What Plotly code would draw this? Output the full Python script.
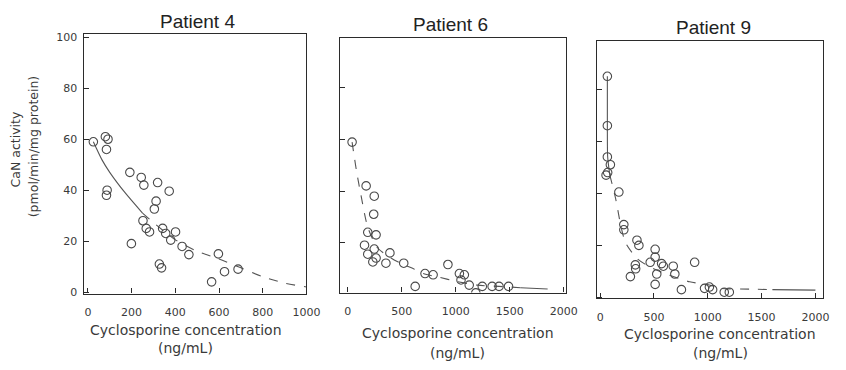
import plotly.graph_objects as go

# ---- measured CaN activity vs cyclosporine concentration ----
p4_conc = [25, 80, 92, 85, 85, 88, 192, 199, 244, 256, 252, 267, 282, 319, 312, 304,
           372, 342, 356, 327, 337, 401, 379, 431, 462, 597, 566, 625, 687]
p4_act = [59, 61, 60, 56, 38, 40, 47, 19, 45, 42, 28, 25, 23.6, 43, 35.7, 32.6,
          39.6, 25, 23, 11, 9.5, 23.6, 20.4, 17.9, 14.7, 15, 4, 8, 9]

p6_conc = [40, 170, 245, 240, 185, 262, 155, 245, 185, 262, 232, 353, 390, 518, 624,
           715, 790, 927, 1033, 1079, 1048, 1124, 1185, 1245, 1336, 1400, 1488]
p6_act = [59, 42, 38, 31, 24, 23, 19, 17.5, 15.5, 14, 12.5, 12, 16, 12, 3,
          8, 7.5, 11.5, 8, 7.5, 5.5, 3.5, 0.5, 3, 3, 3, 3]

p9_conc = [67, 67, 67, 95, 55, 70, 174, 220, 220, 342, 360, 327, 330, 281, 465,
           511, 511, 571, 587, 679, 694, 526, 511, 755, 878, 1015, 1045, 1153, 1200, 970]
p9_act = [85, 66, 54, 51, 47, 48, 40.5, 28, 26, 22, 20, 12.5, 11, 8, 13.5,
          18.5, 15.5, 13, 12, 12, 9, 9, 5, 3, 13.5, 4, 3, 2, 2, 3.5]

# ---- fitted decay curves ----
p4_fit_x = [25, 64, 100, 170, 250, 325, 400, 500, 600, 700, 800, 900, 1000]
p4_fit_y = [59, 52, 47, 39, 31, 25.5, 20.5, 16, 13, 9.5, 6, 3.5, 2]

p6_fit_x = [40, 80, 124, 185, 275, 400, 488, 600, 700, 850, 1000, 1200, 1400, 1600, 1850]
p6_fit_y = [59, 48, 38, 26, 18, 14, 12, 10, 8, 6.5, 5, 3.5, 3, 2.5, 2]

p9_fit_x = [67, 67, 70, 90, 144, 190, 236, 342, 450, 617, 832, 1015, 1120, 1400, 1600, 2000]
p9_fit_y = [85, 66, 54, 47, 38, 28, 21, 15, 12, 9, 6, 4.8, 3.5, 3.2, 3, 2.8]

# (x_from, x_to, dash) pieces of each fitted curve
p4_pieces = [(0, 250, "solid"), (250, 1000, "dash")]
p6_pieces = [(0, 1600, "dash"), (1600, 2000, "solid")]
p9_pieces = [(0, 90, "solid"), (90, 1600, "dash"), (1600, 2000, "solid")]

titles = ["Patient 4", "Patient 6", "Patient 9"]
x_title = ["Cyclosporine concentration", "(ng/mL)"]
y_title = ["CaN activity", "(pmol/min/mg protein)"]

W, H = 846, 370
INK = "#2b2b2b"
MARK = "#4a4a4a"
FONT = "DejaVu Sans"


def px(x):
    return x / W


def py(y):
    return 1 - y / H


panels = [
    dict(conc=p4_conc, act=p4_act, fx=p4_fit_x, fy=p4_fit_y, pieces=p4_pieces,
         xdom=(84, 311), ydom=(32, 297), xr=(-20, 1000), yr=(-0.6, 101.2), dtick=200,
         ylabels=True, title_xy=(200, 19), xt_x=188, xt_y=(334, 353)),
    dict(conc=p6_conc, act=p6_act, fx=p6_fit_x, fy=p6_fit_y, pieces=p6_pieces,
         xdom=(345, 575), ydom=(36, 296), xr=(-73, 2018), yr=(0.6, 99.3), dtick=500,
         ylabels=False, title_xy=(458, 22), xt_x=465, xt_y=(337, 358)),
    dict(conc=p9_conc, act=p9_act, fx=p9_fit_x, fy=p9_fit_y, pieces=p9_pieces,
         xdom=(607, 837), ydom=(39, 302), xr=(-27, 2072), yr=(-0.4, 98.5), dtick=500,
         ylabels=False, title_xy=(725, 25), xt_x=732, xt_y=(338, 358)),
]

fig = go.Figure()
annotations = []

for i, p in enumerate(panels, start=1):
    xa = "x" if i == 1 else f"x{i}"
    ya = "y" if i == 1 else f"y{i}"

    for lo, hi, dash in p["pieces"]:
        xs = [x for x in p["fx"] if lo <= x <= hi]
        ys = [y for x, y in zip(p["fx"], p["fy"]) if lo <= x <= hi]
        fig.add_trace(go.Scatter(
            x=xs, y=ys, mode="lines", xaxis=xa, yaxis=ya, showlegend=False,
            line=dict(color="#555555", width=1.1, dash=dash, shape="spline", smoothing=0.7),
            hoverinfo="skip"))

    fig.add_trace(go.Scatter(
        x=p["conc"], y=p["act"], mode="markers", xaxis=xa, yaxis=ya, showlegend=False,
        marker=dict(symbol="circle-open", size=8.5, color=MARK, line=dict(width=1.1))))

    axis_common = dict(
        showline=True, linecolor=INK, linewidth=1.3, mirror=True,
        ticks="inside", ticklen=5, tickwidth=1, tickcolor=INK,
        showgrid=False, zeroline=False,
        tickfont=dict(family=FONT, size=11, color="#3a3a3a"),
    )
    xname = "xaxis" if i == 1 else f"xaxis{i}"
    yname = "yaxis" if i == 1 else f"yaxis{i}"
    fig.update_layout({
        xname: dict(axis_common, domain=[px(p["xdom"][0]), px(p["xdom"][1])],
                    range=list(p["xr"]), tick0=0, dtick=p["dtick"],
                    anchor=ya, ticklabelstandoff=8),
        yname: dict(axis_common, domain=[py(p["ydom"][1]), py(p["ydom"][0])],
                    range=list(p["yr"]), tick0=0, dtick=20,
                    anchor=xa, showticklabels=p["ylabels"], ticklabelstandoff=3),
    })

    tx, ty = p["title_xy"]
    annotations.append(dict(
        text=titles[i - 1], x=px(tx), y=py(ty), xref="paper", yref="paper",
        showarrow=False, xanchor="center", yanchor="middle",
        font=dict(family="Liberation Sans", size=19, color="#222222")))
    for line, yy in zip(x_title, p["xt_y"]):
        annotations.append(dict(
            text=line, x=px(p["xt_x"]), y=py(yy), xref="paper", yref="paper",
            showarrow=False, xanchor="center", yanchor="middle",
            font=dict(family=FONT, size=14, color="#3a3a3a")))

for line, (xx, yy) in zip(y_title, [(15, 150), (33, 146)]):
    annotations.append(dict(
        text=line, x=px(xx), y=py(yy), xref="paper", yref="paper", textangle=-90,
        showarrow=False, xanchor="center", yanchor="middle",
        font=dict(family=FONT, size=12.5, color="#3a3a3a")))

fig.update_layout(
    width=W, height=H, margin=dict(l=0, r=0, t=0, b=0),
    paper_bgcolor="white", plot_bgcolor="white",
    annotations=annotations,
)

fig.write_html("out.html")
